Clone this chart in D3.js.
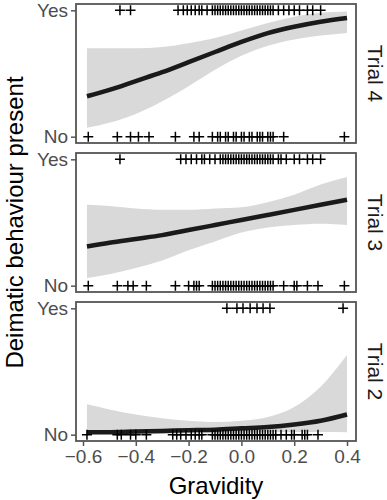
<!DOCTYPE html>
<html>
<head>
<meta charset="utf-8">
<script src="https://cdn.jsdelivr.net/npm/d3@7"></script>
<style>
  body { margin: 0; background: #fff; }
  text { font-family: "Liberation Sans", Arial, sans-serif; }
</style>
</head>
<body>
<div id="chart"></div>
<script>
// panels, top to bottom
const trials = ['Trial 4', 'Trial 3', 'Trial 2'];
const xTicks = [-0.6, -0.4, -0.2, 0.0, 0.2, 0.4];
const yLabels = ['No', 'Yes'];

// raw observations (gravidity), by outcome
const trial4Yes = [-0.46, -0.42, -0.24, -0.22, -0.205, -0.19, -0.175, -0.16, -0.15, -0.13, -0.11, -0.10, -0.09, -0.08, -0.07, -0.06, -0.05, -0.04, -0.03, -0.02, -0.01, 0.0, 0.01, 0.02, 0.03, 0.04, 0.05, 0.06, 0.07, 0.08, 0.09, 0.10, 0.11, 0.12, 0.14, 0.16, 0.18, 0.20, 0.22, 0.25, 0.27, 0.30];
const trial4No = [-0.58, -0.47, -0.42, -0.39, -0.35, -0.25, -0.18, -0.16, -0.11, -0.09, -0.08, -0.06, -0.05, -0.03, -0.02, 0.0, 0.01, 0.03, 0.04, 0.06, 0.07, 0.08, 0.10, 0.11, 0.12, 0.16, 0.39];
const trial3Yes = [-0.46, -0.23, -0.21, -0.19, -0.17, -0.15, -0.14, -0.12, -0.10, -0.08, -0.07, -0.06, -0.05, -0.04, -0.03, -0.02, -0.01, 0.0, 0.01, 0.02, 0.03, 0.04, 0.05, 0.06, 0.07, 0.08, 0.09, 0.10, 0.11, 0.12, 0.14, 0.15, 0.17, 0.20, 0.22, 0.25, 0.27, 0.30];
const trial3No = [-0.58, -0.47, -0.43, -0.41, -0.36, -0.25, -0.20, -0.18, -0.17, -0.16, -0.11, -0.10, -0.09, -0.08, -0.07, -0.06, -0.05, -0.04, -0.03, -0.02, -0.01, 0.0, 0.01, 0.02, 0.03, 0.04, 0.05, 0.06, 0.07, 0.08, 0.09, 0.10, 0.11, 0.12, 0.16, 0.20, 0.21, 0.25, 0.29, 0.39];
const trial2Yes = [-0.055, -0.017, 0.006, 0.033, 0.059, 0.082, 0.108, 0.385];
const trial2No = [-0.585, -0.47, -0.455, -0.42, -0.40, -0.36, -0.26, -0.245, -0.23, -0.21, -0.19, -0.175, -0.16, -0.15, -0.11, -0.10, -0.09, -0.08, -0.07, -0.06, -0.05, -0.04, -0.03, -0.02, -0.01, 0.0, 0.01, 0.02, 0.03, 0.04, 0.05, 0.06, 0.07, 0.08, 0.09, 0.10, 0.11, 0.12, 0.13, 0.15, 0.17, 0.19, 0.20, 0.23, 0.24, 0.25, 0.29];

// fitted probability and confidence band, read at these x values
const fitX = [-0.585, -0.5, -0.4, -0.3, -0.2, -0.1, 0.0, 0.1, 0.2, 0.3, 0.4];
const trial4Fit = [0.32, 0.37, 0.44, 0.51, 0.59, 0.67, 0.75, 0.82, 0.87, 0.91, 0.94];
const trial4Lo = [0.07, 0.11, 0.18, 0.28, 0.40, 0.53, 0.64, 0.72, 0.77, 0.80, 0.82];
const trial4Hi = [0.70, 0.70, 0.70, 0.71, 0.74, 0.78, 0.84, 0.90, 0.95, 0.98, 0.99];
const trial3Fit = [0.31, 0.34, 0.37, 0.40, 0.44, 0.48, 0.52, 0.56, 0.60, 0.64, 0.68];
const trial3Lo = [0.06, 0.09, 0.14, 0.20, 0.28, 0.35, 0.42, 0.46, 0.48, 0.49, 0.48];
const trial3Hi = [0.64, 0.63, 0.61, 0.60, 0.60, 0.61, 0.62, 0.66, 0.72, 0.80, 0.86];
const trial2Fit = [0.02, 0.02, 0.025, 0.03, 0.035, 0.04, 0.05, 0.06, 0.08, 0.11, 0.16];
const trial2Lo = [0.002, 0.003, 0.004, 0.006, 0.009, 0.012, 0.016, 0.02, 0.022, 0.022, 0.02];
const trial2Hi = [0.24, 0.20, 0.16, 0.13, 0.11, 0.10, 0.11, 0.14, 0.22, 0.38, 0.63];

const panels = [
  { name: trials[0], yes: trial4Yes, no: trial4No, fit: trial4Fit, lo: trial4Lo, hi: trial4Hi },
  { name: trials[1], yes: trial3Yes, no: trial3No, fit: trial3Fit, lo: trial3Lo, hi: trial3Hi },
  { name: trials[2], yes: trial2Yes, no: trial2No, fit: trial2Fit, lo: trial2Lo, hi: trial2Hi },
];

const width = 387;
const height = 500;
const left = 76;
const right = 356;
const panelH = 139;
const panelTops = [4, 153, 302];

const svg = d3.select('#chart')
  .append('svg')
  .attr('width', width)
  .attr('height', height);

const x = d3.scaleLinear()
  .domain([-0.6265, 0.434])
  .range([left, right]);

const tickGrey = '#4d4d4d';
const borderGrey = '#555';

panels.forEach((p, k) => {
  const top = panelTops[k];
  const y = d3.scaleLinear()
    .domain([-0.05, 1.05])
    .range([top + panelH, top]);

  const g = svg.append('g').attr('class', 'panel');

  // confidence band
  const band = fitX.map((v, i) => ({ x: v, lo: p.lo[i], hi: p.hi[i] }));
  g.append('path')
    .datum(band)
    .attr('fill', '#d9d9d9')
    .attr('d', d3.area()
      .curve(d3.curveMonotoneX)
      .x((d) => x(d.x))
      .y0((d) => y(d.lo))
      .y1((d) => y(d.hi)));

  // fitted curve
  const line = fitX.map((v, i) => ({ x: v, p: p.fit[i] }));
  g.append('path')
    .datum(line)
    .attr('fill', 'none')
    .attr('stroke', '#1a1a1a')
    .attr('stroke-width', 4.5)
    .attr('d', d3.line()
      .curve(d3.curveMonotoneX)
      .x((d) => x(d.x))
      .y((d) => y(d.p)));

  // + markers
  const pts = p.yes.map((v) => ({ x: v, v: 1 }))
    .concat(p.no.map((v) => ({ x: v, v: 0 })));
  const s = 5;
  g.selectAll('.pt')
    .data(pts)
    .enter()
    .append('path')
    .attr('class', 'pt')
    .attr('stroke', '#000')
    .attr('stroke-width', 1.5)
    .attr('fill', 'none')
    .attr('d', (d) => {
      const cx = x(d.x);
      const cy = y(d.v);
      return `M${cx - s},${cy}H${cx + s}M${cx},${cy - s}V${cy + s}`;
    });

  // border
  g.append('rect')
    .attr('x', left)
    .attr('y', top)
    .attr('width', right - left)
    .attr('height', panelH)
    .attr('fill', 'none')
    .attr('stroke', borderGrey)
    .attr('stroke-width', 1.8);

  // y axis
  const yAxis = d3.axisLeft(y)
    .tickValues([0, 1])
    .tickFormat((d) => yLabels[d])
    .tickSize(5)
    .tickPadding(3);
  const ya = svg.append('g')
    .attr('transform', `translate(${left},0)`)
    .call(yAxis);
  ya.select('.domain').remove();
  ya.selectAll('line').attr('stroke', borderGrey).attr('stroke-width', 1.5);
  ya.selectAll('text')
    .attr('fill', tickGrey)
    .attr('font-size', 19)
    .style('font-family', '"Liberation Sans", Arial, sans-serif');

  // strip label
  svg.append('text')
    .attr('transform', `translate(${368},${top + panelH / 2}) rotate(90)`)
    .attr('text-anchor', 'middle')
    .attr('font-size', 21)
    .attr('fill', '#1a1a1a')
    .text(p.name);
});

// x axis under the last panel
const xAxis = d3.axisBottom(x)
  .tickValues(xTicks)
  .tickFormat((d) => d3.format('.1f')(d).replace('-', '\u2212'))
  .tickSize(5)
  .tickPadding(4);
const xa = svg.append('g')
  .attr('transform', `translate(0,${panelTops[2] + panelH})`)
  .call(xAxis);
xa.select('.domain').remove();
xa.selectAll('line').attr('stroke', borderGrey).attr('stroke-width', 1.5);
xa.selectAll('text')
  .attr('fill', tickGrey)
  .attr('font-size', 19)
  .style('font-family', '"Liberation Sans", Arial, sans-serif');

// axis titles
svg.append('text')
  .attr('x', (left + right) / 2)
  .attr('y', 494)
  .attr('text-anchor', 'middle')
  .attr('font-size', 24)
  .attr('fill', '#000')
  .text('Gravidity');

svg.append('text')
  .attr('transform', `translate(${23},${(panelTops[0] + panelTops[2] + panelH) / 2}) rotate(-90)`)
  .attr('text-anchor', 'middle')
  .attr('font-size', 24)
  .attr('fill', '#000')
  .text('Deimatic behaviour present');
</script>
</body>
</html>
